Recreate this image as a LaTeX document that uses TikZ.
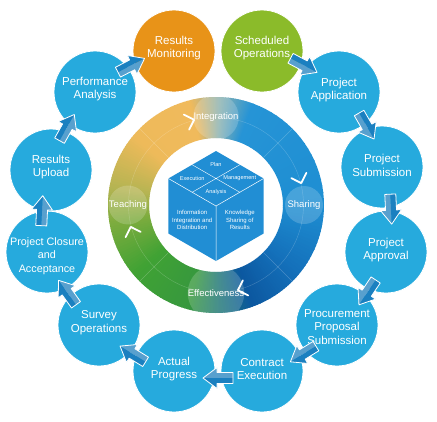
\documentclass[tikz,border=0pt]{standalone}
\usepackage{fontspec}
\setmainfont{Liberation Sans}
\usetikzlibrary{calc}
\definecolor{cblue}{RGB}{38,170,221}
\definecolor{corange}{RGB}{232,147,24}
\definecolor{cgreen}{RGB}{139,187,42}
\definecolor{cubeblue}{RGB}{33,142,212}
\definecolor{arrlight}{RGB}{88,160,206}
\definecolor{arrdark}{RGB}{27,128,192}
\definecolor{r0}{RGB}{30,142,210}
\definecolor{r1}{RGB}{20,112,186}
\definecolor{r2}{RGB}{12,88,160}
\definecolor{r3}{RGB}{30,118,118}
\definecolor{r4}{RGB}{55,152,62}
\definecolor{r5}{RGB}{64,162,52}
\definecolor{r6}{RGB}{125,172,62}
\definecolor{r7}{RGB}{182,180,82}
\definecolor{r8}{RGB}{238,186,90}
\definecolor{r9}{RGB}{240,186,92}
\definecolor{r10}{RGB}{140,178,175}
\definecolor{r11}{RGB}{38,148,214}
\tikzset{
  stepc/.style={circle, minimum size=82pt, inner sep=0pt, fill=cblue, draw=white, line width=0.8pt},
  steptext/.style={text=white, align=center, inner sep=0pt, font=\fontsize{11.5}{13.8}\selectfont},
  bubble/.style={circle, minimum size=38pt, inner sep=0pt, fill=white, fill opacity=0.18, text opacity=1, text=white, font=\fontsize{9.5}{11}\selectfont},
  cubetext/.style={text=white, inner sep=0pt, font=\fontsize{5.6}{6.5}\selectfont},
  cubetext2/.style={text=white, inner sep=0pt, align=center, font=\fontsize{6}{7.5}\selectfont},
  chev/.style={white, line width=1.8pt, line cap=round, line join=round},
  faint/.style={white, opacity=0.22, line width=0.4pt}
}
\newcommand\flowarrow[3]{%
  \coordinate (#3) at ($(#1)!0.5!(#2)!7pt!90:(#2)$);
  \pgfmathanglebetweenpoints{\pgfpointanchor{#1}{center}}{\pgfpointanchor{#2}{center}}%
  \let\fang\pgfmathresult
  \begin{scope}[shift={(#3)}, rotate=\fang, x=1pt, y=1pt]
    \fill[arrlight] (-15,0) -- (-15,-5.5) -- (1,-5.5) -- (1,-10.5) -- (15,0) -- cycle;
    \fill[arrdark] (-15,0) -- (-15,5.5) -- (1,5.5) -- (1,10.5) -- (15,0) -- cycle;
    \draw[white, line width=0.8pt, line join=round] (-15,-5.5) -- (1,-5.5) -- (1,-10.5) -- (15,0) -- (1,10.5) -- (1,5.5) -- (-15,5.5) -- cycle;
  \end{scope}
}
\begin{document}
\begin{tikzpicture}[x=1pt,y=-1pt]
\useasboundingbox (0,0) rectangle (437,421);
\fill[white] (0,0) rectangle (437,421);
\coordinate (ring) at (216,205);
% ring with angular gradient
\foreach \a/\b/\ca/\cb in {0/40/r0/r1,40/70/r1/r2,70/88/r2/r3,88/105/r3/r4,105/140/r4/r5,140/170/r5/r6,170/190/r6/r7,190/220/r7/r8,220/256/r8/r9,256/272/r9/r10,272/290/r10/r11,290/360/r11/r0}{
  \foreach \i in {0,...,19}{
    \pgfmathsetmacro\wsa{\a+(\b-\a)*\i/20}
    \pgfmathsetmacro\wsb{\a+(\b-\a)*(\i+1)/20+0.5}
    \pgfmathsetmacro\wpc{97.5-\i*5}
    \fill[\ca!\wpc!\cb] ($(ring)+(\wsa:108)$) -- ($(ring)+(\wsb:108)$) -- ($(ring)+(\wsb:67)$) -- ($(ring)+(\wsa:67)$) -- cycle;
  }
}
\foreach \t in {45,135,225,315}
  \draw[faint] ($(ring)+(\t:67)$) -- ($(ring)+(\t:108)$);
\draw[faint] (ring) circle (87.5pt);
% ring labels
\node[bubble] (integ) at ($(ring)+(270:88)$) {Integration};
\node[bubble] (shar) at ($(ring)+(0:88)$) {Sharing};
\node[bubble] (effe) at ($(ring)+(90:88)$) {Effectiveness};
\node[bubble] (teach) at ($(ring)+(180:88)$) {Teaching};
% chevrons
\foreach \t in {253,343,73,163}
  \draw[chev] ($(ring)+(\t-2.6:80)$) -- ($(ring)+(\t+2.6:88)$) -- ($(ring)+(\t-2.6:96)$);
% cube
\coordinate (cube) at (216,206);
\foreach \k/\t in {T/270,UR/330,LR/30,B/90,LL/150,UL/210}
  \coordinate (c\k) at ($(cube)+(\t:55)$);
\fill[cubeblue] (cT) -- (cUR) -- (cLR) -- (cB) -- (cLL) -- (cUL) -- cycle;
\draw[white, line width=0.5pt] (cUL) -- (cube) -- (cUR) (cube) -- (cB);
\draw[white, line width=0.4pt] ($(cT)!0.5!(cUL)$) -- ($(cUR)!0.5!(cube)$) ($(cT)!0.5!(cUR)$) -- ($(cUL)!0.5!(cube)$);
\node[cubetext] (plan) at (216,164.8) {Plan};
\node[cubetext] (exec) at (192.2,178.5) {Execution};
\node[cubetext] (mgmt) at (239.8,178.5) {Management};
\node[cubetext] (anal) at (216,192.3) {Analysis};
\node[cubetext2] (info) at (192.2,220) {Information\\Integration and\\Distribution};
\node[cubetext2] (know) at (239.8,220) {Knowledge\\Sharing of\\Results};
% outer circles
\node[stepc, fill=corange] (rm) at (174,51) {};
\node[stepc, fill=cgreen] (so) at (262,51) {};
\node[stepc] (pa) at (339,92) {};
\node[stepc] (ps) at (382,167) {};
\node[stepc] (pap) at (386,252) {};
\node[stepc] (pps) at (337,325) {};
\node[stepc] (ce) at (262,371) {};
\node[stepc] (ap) at (174,371) {};
\node[stepc] (sv) at (99,325) {};
\node[stepc] (pc) at (47,252) {};
\node[stepc] (ru) at (51,170) {};
\node[stepc] (pan) at (95,92) {};
\node[steptext] (rm-t) at ($(rm)+(0,-3)$) {Results\\Monitoring};
\node[steptext] (so-t) at ($(so)+(0,-3)$) {Scheduled\\Operations};
\node[steptext] (pa-t) at ($(pa)+(0,-2)$) {Project\\Application};
\node[steptext] (ps-t) at ($(ps)+(0,-2)$) {Project\\Submission};
\node[steptext] (pap-t) at ($(pap)+(0,-2)$) {Project\\Approval};
\node[steptext] (pps-t) at ($(pps)+(0,2)$) {Procurement\\Proposal\\Submission};
\node[steptext] (ce-t) at ($(ce)+(0,-2)$) {Contract\\Execution};
\node[steptext] (ap-t) at ($(ap)+(0,-2)$) {Actual\\Progress};
\node[steptext] (sv-t) at ($(sv)+(0,-2)$) {Survey\\Operations};
\node[steptext, font=\fontsize{10.8}{13.3}\selectfont] (pc-t) at ($(pc)+(0,4)$) {Project Closure\\and\\Acceptance};
\node[steptext] (ru-t) at ($(ru)+(0,-3)$) {Results\\Upload};
\node[steptext] (pan-t) at ($(pan)+(0,-3)$) {Performance\\Analysis};
% block arrows
\flowarrow{so}{pa}{a1}
\flowarrow{pa}{ps}{a2}
\flowarrow{ps}{pap}{a3}
\flowarrow{pap}{pps}{a4}
\flowarrow{pps}{ce}{a5}
\flowarrow{ce}{ap}{a6}
\flowarrow{ap}{sv}{a7}
\flowarrow{sv}{pc}{a8}
\flowarrow{pc}{ru}{a9}
\flowarrow{ru}{pan}{a10}
\flowarrow{pan}{rm}{a11}
\end{tikzpicture}
\end{document}
